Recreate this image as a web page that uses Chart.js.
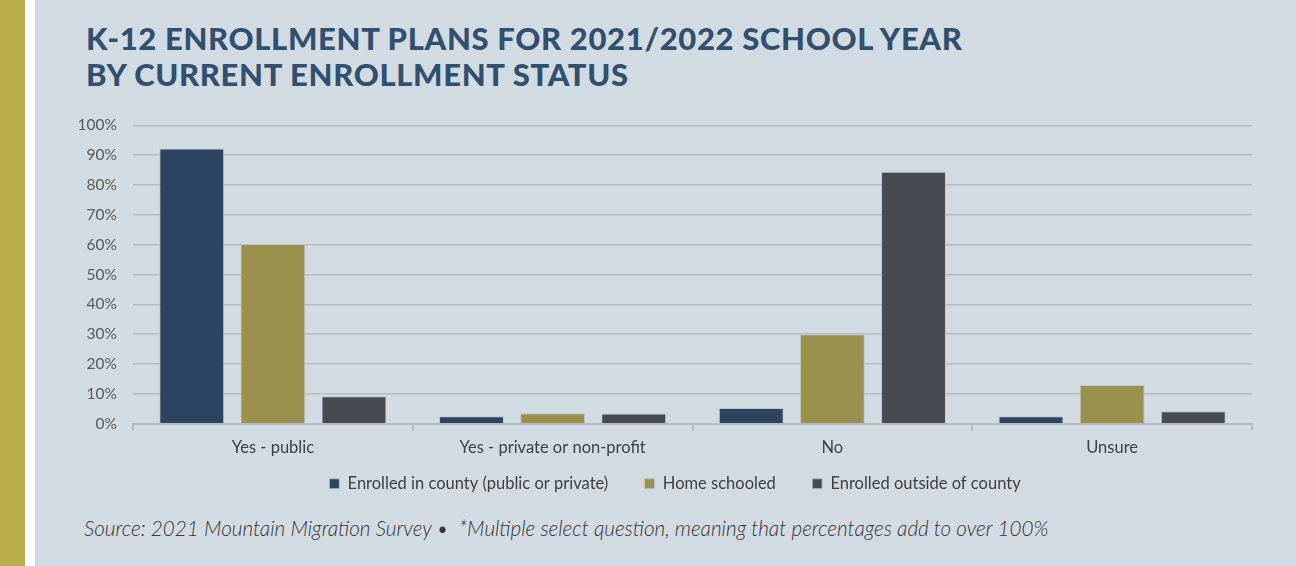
<!DOCTYPE html>
<html>
<head>
<meta charset="utf-8">
<script src="https://cdn.jsdelivr.net/npm/chart.js@4.4.0/dist/chart.umd.min.js"></script>
<style>
  html, body { margin: 0; padding: 0; }
  body { width: 1296px; height: 566px; position: relative; overflow: hidden; background: #ffffff; }
  .stripe { position: absolute; left: 0; top: 0; width: 25px; height: 566px; background: #bbad4a; }
  .panel { position: absolute; left: 35px; top: 0; width: 1261px; height: 566px; background: #d3dbe2; }
  .title { position: absolute; left: 86px; top: 20px; font-family: Lato, sans-serif; font-weight: 900;
           font-size: 31px; line-height: 36px; letter-spacing: 0.65px; color: #31506f; }
  .source { position: absolute; left: 84px; top: 516px; font-family: Lato, sans-serif; font-style: italic;
            font-weight: 300; font-size: 20.7px; color: #333; }
  .wrap { position: absolute; left: 35px; top: 100px; width: 1280px; height: 402px; }
</style>
</head>
<body>
<div class="stripe"></div>
<div class="panel"></div>
<div class="title">K-12 ENROLLMENT PLANS FOR 2021/2022 SCHOOL YEAR<br>BY CURRENT ENROLLMENT STATUS</div>
<div class="wrap"><canvas id="chart"></canvas></div>
<div class="source">Source: 2021 Mountain Migration Survey &bull; &nbsp;*Multiple select question, meaning that percentages add to over 100%</div>
<script>
// categorias y series
const categorias = ['Yes - public', 'Yes - private or non-profit', 'No', 'Unsure'];
const enCondado = [92.2, 2.5, 5.3, 2.5];
const enCasa = [60.2, 3.5, 30.0, 13.0];
const fueraCondado = [9.2, 3.4, 84.4, 4.2];
const yTicks = [0, 10, 20, 30, 40, 50, 60, 70, 80, 90, 100];

const barBorde = 'rgba(190,196,202,0.9)';

const ctx = document.getElementById('chart');

const chart = new Chart(ctx, {
  type: 'bar',
  data: {
    labels: categorias,
    datasets: [
      { label: 'Enrolled in county (public or private)', data: enCondado, backgroundColor: '#2b4560', borderColor: barBorde, borderWidth: 1 },
      { label: 'Home schooled', data: enCasa, backgroundColor: '#99914c', borderColor: barBorde, borderWidth: 1 },
      { label: 'Enrolled outside of county', data: fueraCondado, backgroundColor: '#474a4f', borderColor: barBorde, borderWidth: 1 }
    ]
  },
  options: {
    responsive: true,
    maintainAspectRatio: false,
    animation: false,
    categoryPercentage: 0.87,
    barPercentage: 0.8,
    layout: { padding: { left: 0, right: 0, top: 9, bottom: 0 } },
    plugins: {
      tooltip: { enabled: false },
      legend: {
        position: 'bottom',
        labels: {
          boxWidth: 10, boxHeight: 10, padding: 11,
          color: '#404040',
          font: { family: 'Lato', size: 16.5 },
          // espacio extra entre items (el padding tambien es vertical)
          generateLabels: function(chart) {
            const items = Chart.defaults.plugins.legend.labels.generateLabels(chart);
            items.forEach((it, i) => {
              if (i < items.length - 1) it.text = it.text + '\u00A0\u00A0\u00A0\u00A0\u00A0\u00A0';
            });
            return items;
          }
        }
      }
    },
    scales: {
      x: {
        grid: { offset: true, drawOnChartArea: false, tickLength: 7, color: '#b4bbc2', lineWidth: 2 },
        border: { color: '#b4bbc2', width: 2 },
        ticks: { color: '#404040', font: { family: 'Lato', size: 16.5 }, padding: 7 }
      },
      y: {
        min: 0, max: 100,
        afterFit: function(scale) { scale.width = 98; },
        afterBuildTicks: function(scale) { scale.ticks = yTicks.map(v => ({ value: v })); },
        grid: { color: '#b4bbc2', lineWidth: 1.5, drawTicks: false },
        border: { display: false },
        ticks: {
          color: '#595959', padding: 16,
          font: { family: 'Lato', size: 15.5 },
          callback: v => v + '%'
        }
      },
      // eje vacio a la derecha, solo para dejar margen
      yDer: {
        position: 'right',
        min: 0, max: 100,
        afterFit: function(scale) { scale.width = 63; },
        grid: { drawOnChartArea: false, drawTicks: false },
        border: { display: false },
        ticks: { display: false }
      }
    }
  }
});
</script>
</body>
</html>
